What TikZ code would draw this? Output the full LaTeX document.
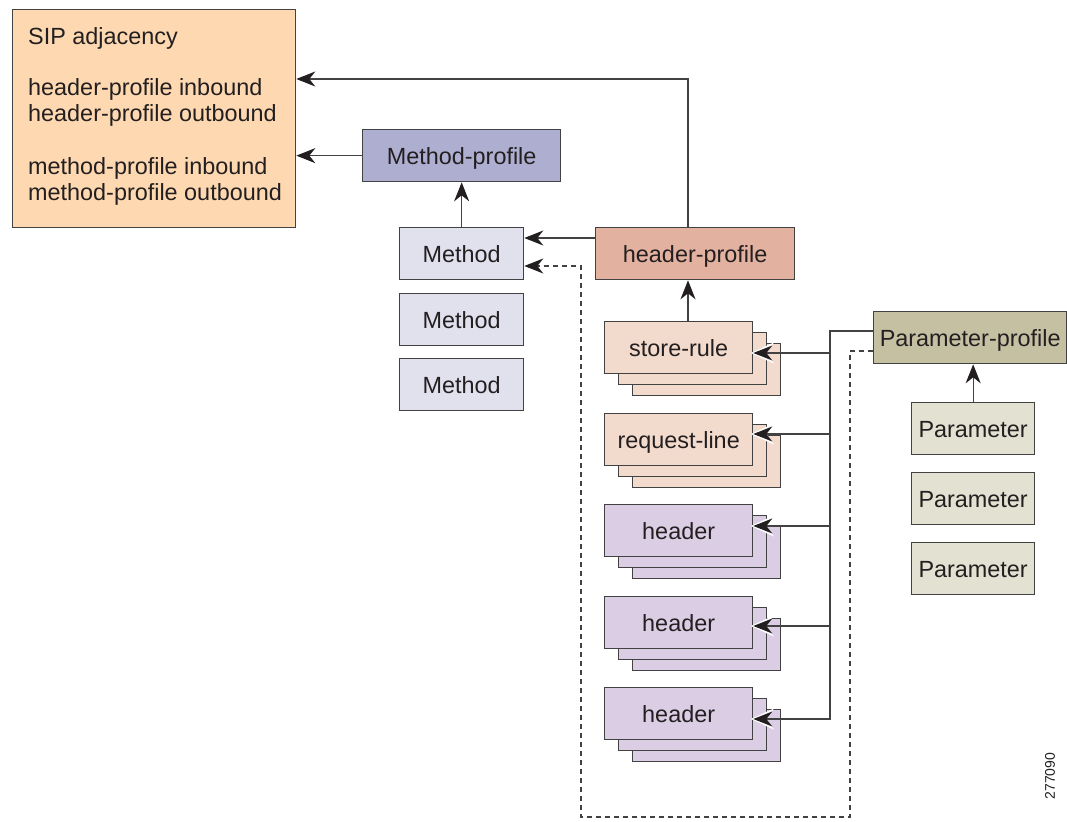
\documentclass[tikz,border=0pt]{standalone}
\usepackage{fontspec}
\setmainfont{Liberation Sans}
\usetikzlibrary{arrows.meta,calc}

\definecolor{ink}{RGB}{35,31,32}
\definecolor{edge}{RGB}{66,66,66}
\definecolor{sipfill}{RGB}{253,216,176}
\definecolor{mpfill}{RGB}{174,174,208}
\definecolor{mfill}{RGB}{225,225,238}
\definecolor{hpfill}{RGB}{227,177,160}
\definecolor{rulefill}{RGB}{242,218,205}
\definecolor{hdrfill}{RGB}{218,205,228}
\definecolor{ppfill}{RGB}{198,192,162}
\definecolor{pfill}{RGB}{227,225,209}

\tikzset{
  x=1pt, y=-1pt,
  lbl/.style={inner sep=0pt, text=ink, font=\fontsize{23.4}{28}\selectfont},
  box/.style={lbl, draw=edge, line width=1.3pt, anchor=north west,
              text height=16.8pt, text depth=0pt},
  wide/.style={box, minimum width=#1},
  tall/.style={minimum height=52pt},
  arr/.style={draw=edge, line width=1.3pt,
              -{Stealth[length=19pt,width=15pt,inset=6pt,color=ink]}},
  haloarr/.style={arr,
              preaction={draw=white, line width=1.3pt,
                -{Stealth[length=23pt,width=21pt,inset=7pt,color=white]},
                shorten >=-2.5pt}},
  dasharr/.style={arr, dash pattern=on 5pt off 4pt},
}

% a card with two copies stacked behind it
\newcommand{\cardstack}[5]{% name, x, y, fill, text
  \node[wide=148pt, tall, fill=#4] (#1b2) at (#2+28,#3+22) {};
  \node[wide=148pt, tall, fill=#4] (#1b1) at (#2+14,#3+11) {};
  \node[wide=148pt, tall, fill=#4] (#1) at (#2,#3) {#5};
}

\begin{document}
\begin{tikzpicture}
\useasboundingbox (0,0) rectangle (1067,821);
\fill[white] (0,0) rectangle (1067,821);

% helper levels
\coordinate (hx) at (688,0);
\coordinate (vx) at (830,0);
\coordinate (dxr) at (850,0);
\coordinate (dxl) at (581,0);
\coordinate (ytop) at (0,79);
\coordinate (yhm) at (0,238);
\coordinate (ydm) at (0,266);
\coordinate (ypp) at (0,331);
\coordinate (ydp) at (0,351);
\coordinate (ysr) at (0,353);
\coordinate (yrl) at (0,434);
\coordinate (yh1) at (0,526);
\coordinate (yh2) at (0,626);
\coordinate (yh3) at (0,719);
\coordinate (ybot) at (0,817);

% SIP adjacency
\node[box, fill=sipfill, minimum width=283pt, minimum height=218pt] (sip) at (12,9) {};
\node[lbl, anchor=base west] (sipt) at (28,44.4) {SIP adjacency};
\node[lbl, anchor=base west] (hin) at (28,96) {header-profile inbound};
\node[lbl, anchor=base west] (hout) at (28,121.5) {header-profile outbound};
\node[lbl, anchor=base west] (min) at (28,175) {method-profile inbound};
\node[lbl, anchor=base west] (mout) at (28,200.5) {method-profile outbound};

% method side
\node[wide=198pt, tall, fill=mpfill] (mp) at (362,129) {Method-profile};
\node[wide=124pt, tall, fill=mfill] (m1) at (399,227) {Method};
\node[wide=124pt, tall, fill=mfill] (m2) at (399,293) {Method};
\node[wide=124pt, tall, fill=mfill] (m3) at (399,358) {Method};

% header side
\node[wide=199pt, tall, fill=hpfill] (hp) at (595,227) {header-profile};
\cardstack{sr}{604}{321}{rulefill}{store-rule}
\cardstack{rl}{604}{413}{rulefill}{request-line}
\cardstack{h1}{604}{504}{hdrfill}{header}
\cardstack{h2}{604}{596}{hdrfill}{header}
\cardstack{h3}{604}{687}{hdrfill}{header}

% parameter side
\node[wide=193pt, tall, fill=ppfill] (pp) at (873,311) {Parameter-profile};
\node[wide=123pt, tall, fill=pfill] (p1) at (911,402) {Parameter};
\node[wide=123pt, tall, fill=pfill] (p2) at (911,472) {Parameter};
\node[wide=123pt, tall, fill=pfill] (p3) at (911,542) {Parameter};

% connectors
\draw[arr] (hp.north -| hx) |- (sip.east |- ytop);
\draw[arr] (mp.west) -- (sip.east |- mp.west);
\draw[arr] (m1.north) -- (mp.south);
\draw[arr] (hp.west |- yhm) -- (m1.east |- yhm);
\draw[arr] (sr.north -| hx) -- (hp.south -| hx);
\draw[arr] (p1.north) -- (p1.north |- pp.south);

\draw[haloarr] (pp.west |- ypp) -| (vx |- yh3) -- (h3.east |- yh3);
\draw[haloarr] (vx |- ysr) -- (sr.east |- ysr);
\draw[haloarr] (vx |- yrl) -- (rl.east |- yrl);
\draw[haloarr] (vx |- yh1) -- (h1.east |- yh1);
\draw[haloarr] (vx |- yh2) -- (h2.east |- yh2);

\draw[dasharr] (pp.west |- ydp) -| (dxr |- ybot) -| (dxl |- ydm) -- (m1.east |- ydm);

\node[rotate=90, inner sep=0pt, text=ink, font=\fontsize{14}{14}\selectfont] (fignum) at (1050,776) {277090};
\end{tikzpicture}
\end{document}
